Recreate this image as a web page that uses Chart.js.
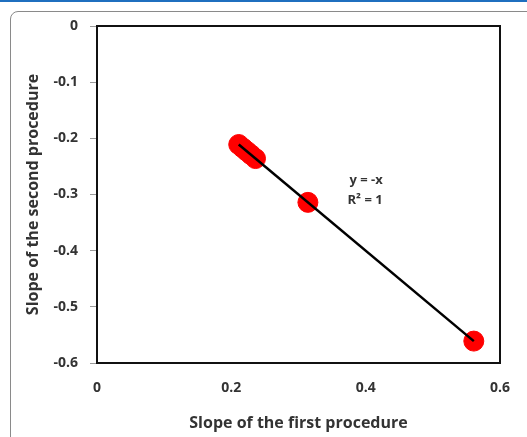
<!DOCTYPE html>
<html>
<head>
<meta charset="utf-8">
<script src="https://cdn.jsdelivr.net/npm/chart.js@4"></script>
<style>
  html, body { margin: 0; padding: 0; background: #fff; overflow: hidden; }
  #wrap { position: relative; width: 527px; height: 437px; }
  #topline { position: absolute; left: 0; top: 0; width: 527px; height: 2px; background: #1f6fbf; }
  #frame { position: absolute; left: 10px; top: 11px; width: 600px; height: 500px;
           border: 1px solid #8a8a8a; border-radius: 8px; }
  #chart { position: absolute; left: 0; top: 0; }
</style>
</head>
<body>
<div id="wrap">
  <div id="topline"></div>
  <div id="frame"></div>
  <canvas id="chart" width="527" height="437"></canvas>
</div>
<script>
// slopes estimated by the two procedures
const firstSlopes = [0.211, 0.217, 0.223, 0.229, 0.236, 0.314, 0.561];
const secondSlopes = [-0.211, -0.217, -0.223, -0.229, -0.236, -0.314, -0.561];
const xTicks = [0, 0.2, 0.4, 0.6];
const yTicks = [0, -0.1, -0.2, -0.3, -0.4, -0.5, -0.6];
const equationLines = ['y = -x', 'R\u00b2 = 1'];

const FONT = '"Open Sans", "Liberation Sans", sans-serif';
const TEXT = '#333333';

// least squares fit, drawn between the smallest and largest x
function fitLine(xs, ys) {
    const n = xs.length;
    const mx = xs.reduce((a, b) => a + b, 0) / n;
    const my = ys.reduce((a, b) => a + b, 0) / n;
    let sxy = 0, sxx = 0;
    for (let i = 0; i < n; i++) {
        sxy += (xs[i] - mx) * (ys[i] - my);
        sxx += (xs[i] - mx) * (xs[i] - mx);
    }
    const slope = sxy / sxx;
    const icpt = my - slope * mx;
    const x0 = Math.min(...xs), x1 = Math.max(...xs);
    return [{ x: x0, y: slope * x0 + icpt }, { x: x1, y: slope * x1 + icpt }];
}

const points = firstSlopes.map((x, i) => ({ x: x, y: secondSlopes[i] }));

// box around the plot area and the trendline equation
const plotExtras = {
    id: 'plotExtras',
    afterDatasetsDraw(chart) {
        const { ctx, chartArea: a, scales } = chart;
        ctx.save();
        ctx.strokeStyle = '#111';
        ctx.lineWidth = 2;
        ctx.strokeRect(a.left, a.top, a.right - a.left, a.bottom - a.top);

        ctx.fillStyle = TEXT;
        ctx.font = 'bold 13px ' + FONT;
        ctx.textAlign = 'left';
        ctx.textBaseline = 'middle';
        const ex = scales.x.getPixelForValue(0.373);
        ctx.fillText(equationLines[0], ex + 2, scales.y.getPixelForValue(-0.275));
        ctx.fillText(equationLines[1], ex, scales.y.getPixelForValue(-0.31));
        ctx.restore();
    }
};

new Chart(document.getElementById('chart'), {
    type: 'scatter',
    data: {
        datasets: [{
            label: 'slopes',
            data: points,
            backgroundColor: '#ff0000',
            borderColor: '#ff0000',
            pointRadius: 10,
            order: 1
        }, {
            type: 'line',
            label: 'trend',
            data: fitLine(firstSlopes, secondSlopes),
            borderColor: '#000',
            borderWidth: 2.5,
            pointRadius: 0,
            fill: false,
            order: 0
        }]
    },
    options: {
        responsive: false,
        animation: false,
        layout: { padding: { top: 26, right: 21, left: 0, bottom: 0 } },
        plugins: { legend: { display: false }, tooltip: { enabled: false } },
        scales: {
            x: {
                type: 'linear',
                min: 0, max: 0.6,
                afterBuildTicks: s => { s.ticks = xTicks.map(v => ({ value: v })); },
                afterFit: s => { s.height = 74; },
                grid: { display: false, drawTicks: false },
                border: { display: false },
                ticks: { padding: 17, color: TEXT, font: { family: FONT, size: 14, weight: 'bold' } },
                title: {
                    display: true,
                    text: 'Slope of the first procedure',
                    color: TEXT,
                    font: { family: FONT, size: 16, weight: 'bold' },
                    padding: { top: 4 }
                }
            },
            y: {
                type: 'linear',
                min: -0.6, max: 0,
                afterBuildTicks: s => { s.ticks = yTicks.map(v => ({ value: v })); },
                afterFit: s => { s.width = 97; },
                grid: { drawOnChartArea: false, tickLength: 7, color: '#9a9a9a' },
                border: { display: false },
                ticks: { padding: 12, color: TEXT, font: { family: FONT, size: 14, weight: 'bold' } },
                title: {
                    display: true,
                    text: 'Slope of the second procedure',
                    color: TEXT,
                    font: { family: FONT, size: 16, weight: 'bold' },
                    padding: { top: 24, bottom: 0 }
                }
            }
        }
    },
    plugins: [plotExtras]
});
</script>
</body>
</html>
